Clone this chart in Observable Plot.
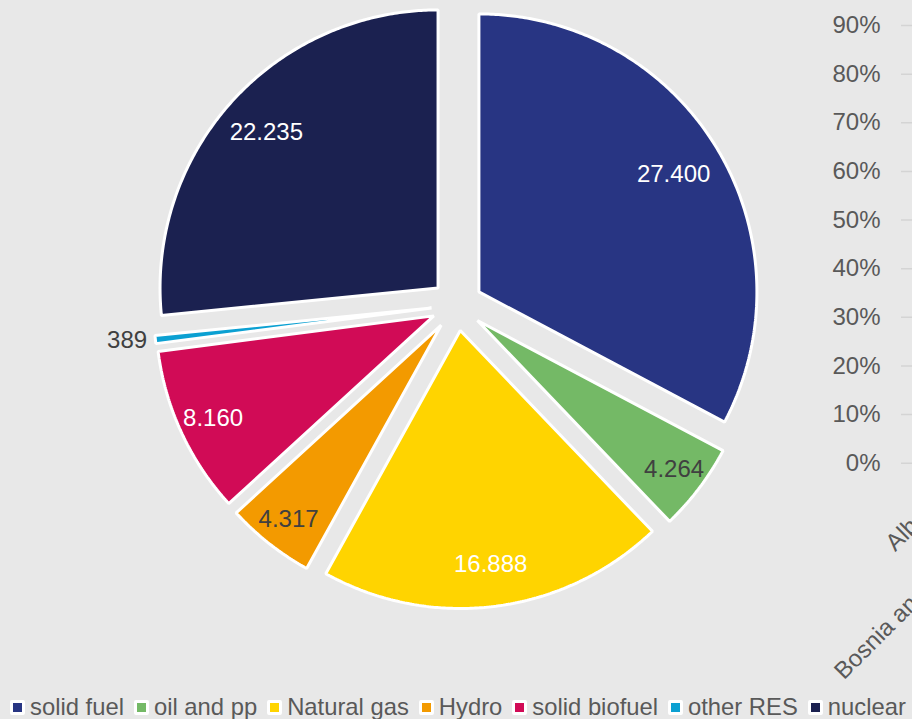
<!DOCTYPE html>
<html><head><meta charset="utf-8">
<script src="https://cdn.jsdelivr.net/npm/d3@7"></script>
<script src="https://cdn.jsdelivr.net/npm/@observablehq/plot@0.6"></script>
<style>
html,body{margin:0;padding:0;background:#e8e8e8;overflow:hidden}
#wrap{position:relative;width:912px;height:719px;overflow:hidden;background:#e8e8e8;font-family:"Liberation Sans",Arial,sans-serif}
#bar{position:absolute;left:780px;top:0;width:400px;height:719px}
#bar svg{max-width:none !important}
#pie{position:absolute;left:0;top:0}
#legend{position:absolute;left:10px;top:690px;width:1000px;color:#595959}
.lg-swatches{font-family:"Liberation Sans",Arial,sans-serif !important;font-size:23.8px !important;color:#595959 !important;margin:0 !important}
.lg-swatches-wrap{min-height:34px !important;flex-wrap:nowrap !important;white-space:nowrap}
.lg-swatch{margin-right:10px !important}
.lg-swatch > svg{border:3px solid #fff;border-radius:2px;margin-right:5px !important;background:#fff}
</style></head><body><div id="wrap"><div id="bar"></div><div id="pie"></div><div id="legend"></div></div>
<script>
// ---- data ----
const sources = ["solid fuel", "oil and pp", "Natural gas", "Hydro", "solid biofuel", "other RES", "nuclear"];
const values = [27400, 4264, 16888, 4317, 8160, 389, 22235];
const palette = ["#283583", "#74b966", "#ffd400", "#f39a00", "#d10b56", "#0ba0d2", "#1b2150"];
const countries = ["Albania", "Bosnia and Herzegovina"];
const percentTicks = [0, 0.1, 0.2, 0.3, 0.4, 0.5, 0.6, 0.7, 0.8, 0.9];

// ---- styles ----
const FONT = "Liberation Sans, Arial, sans-serif";
const darkLabelSources = ["oil and pp", "Hydro"];
const outsideLabelSources = ["other RES"];

const fmt = d3.formatLocale({decimal: ",", thousands: ".", grouping: [3], currency: ["", ""]}).format(",");
const rows = sources.map((s, i) => ({source: s, value: values[i]}));
const arcs = d3.pie().sort(null).value(d => d.value)(rows);

const EXPLODE = 0.092;
const pts = [];
const labels = [];
for (const a of arcs) {
  const s = a.data.source;
  const span = a.endAngle - a.startAngle;
  const mid = (a.startAngle + a.endAngle) / 2;
  const ox = EXPLODE * Math.sin(mid), oy = EXPLODE * Math.cos(mid);
  pts.push({source: s, x: ox, y: oy});
  const n = Math.max(2, Math.ceil(span / (Math.PI / 360)));
  for (let i = 0; i <= n; i++) {
    const t = a.startAngle + span * i / n;
    pts.push({source: s, x: ox + Math.sin(t), y: oy + Math.cos(t)});
  }
  const outside = outsideLabelSources.includes(s);
  // best-fit style: wide slices get their label a bit further in
  const lr = outside ? 1.03 : 0.9 - 0.07 * (span * 180 / Math.PI) / 100;
  labels.push({
    source: s, text: fmt(a.data.value),
    x: ox + lr * Math.sin(mid), y: oy + lr * Math.cos(mid),
    kind: outside ? "outside" : darkLabelSources.includes(s) ? "dark" : "light"
  });
}

const W = 912, H = 690, CX = 456.5, CY = 304.6, R = 278;
const pie = Plot.plot({
  width: W, height: H, margin: 0,
  style: {background: "transparent", fontFamily: FONT, overflow: "visible"},
  x: {domain: [-CX / R, (W - CX) / R], axis: null},
  y: {domain: [-(H - CY) / R, CY / R], axis: null},
  color: {domain: sources, range: palette},
  marks: [
    Plot.line(pts, {x: "x", y: "y", z: "source", fill: "source", stroke: "white", strokeWidth: 3, curve: "linear-closed", strokeLinejoin: "miter"}),
    Plot.text(labels.filter(d => d.kind === "light"), {x: "x", y: "y", text: "text", fill: "white", fontSize: 24}),
    Plot.text(labels.filter(d => d.kind === "dark"), {x: "x", y: "y", text: "text", fill: "#404040", fontSize: 24}),
    Plot.text(labels.filter(d => d.kind === "outside"), {x: "x", y: "y", text: "text", fill: "#404040", fontSize: 24, textAnchor: "end"})
  ]
});
document.getElementById("pie").appendChild(pie);

const legend = pie.legend("color", {swatchSize: 9, className: "lg"});
document.getElementById("legend").appendChild(legend);

// background column chart (partially visible at right edge)
const bar = Plot.plot({
  width: 400, height: 719, marginLeft: 121, marginTop: 25, marginBottom: 256.3, marginRight: 0,
  style: {background: "transparent", fontFamily: FONT, fontSize: "24px", color: "#595959", overflow: "visible", maxWidth: "none"},
  y: {domain: [0, 0.9]},
  x: {type: "point", domain: countries, range: [165.5, 243], padding: 0},
  marks: [
    Plot.gridY(percentTicks, {stroke: "#d4d4d4", strokeOpacity: 1, strokeWidth: 1.5}),
    Plot.axisY(percentTicks, {tickSize: 0, tickPadding: 21, tickFormat: d3.format(".0%"), fontSize: 24, fill: "#595959"}),
    Plot.axisX({tickRotate: -45, tickSize: 0, tickPadding: 27, fontSize: 24, fill: "#595959", label: null})
  ]
});
document.getElementById("bar").appendChild(bar);
</script>
</body></html>
